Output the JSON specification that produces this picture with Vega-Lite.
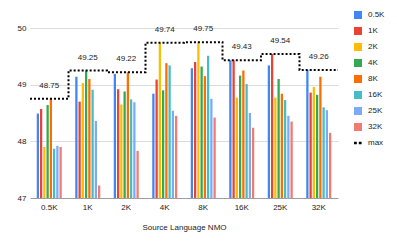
{
  "$schema": "https://vega.github.io/schema/vega-lite/v6.json",
  "width": 308,
  "height": 170,
  "autosize": "none",
  "padding": {"left": 30, "top": 28, "right": 59, "bottom": 47},
  "background": "white",
  "config": {
    "view": {"stroke": null},
    "font": "Liberation Sans",
    "axis": {"labelFont": "Liberation Sans", "titleFont": "Liberation Sans", "labelColor": "#222222", "titleColor": "#222222", "labelFontSize": 8, "titleFontSize": 8, "titleFontWeight": "normal"},
    "legend": {"labelFont": "Liberation Sans", "labelColor": "#222222", "labelFontSize": 8}
  },
  "datasets": {
    "bars": [
      {"g": "0.5K", "s": "0.5K", "v": 48.49}, {"g": "0.5K", "s": "1K", "v": 48.57}, {"g": "0.5K", "s": "2K", "v": 47.90}, {"g": "0.5K", "s": "4K", "v": 48.64},
      {"g": "0.5K", "s": "8K", "v": 48.75}, {"g": "0.5K", "s": "16K", "v": 47.87}, {"g": "0.5K", "s": "25K", "v": 47.92}, {"g": "0.5K", "s": "32K", "v": 47.90},
      {"g": "1K", "s": "0.5K", "v": 49.14}, {"g": "1K", "s": "1K", "v": 48.70}, {"g": "1K", "s": "2K", "v": 49.03}, {"g": "1K", "s": "4K", "v": 49.25},
      {"g": "1K", "s": "8K", "v": 49.10}, {"g": "1K", "s": "16K", "v": 48.91}, {"g": "1K", "s": "25K", "v": 48.36}, {"g": "1K", "s": "32K", "v": 47.22},
      {"g": "2K", "s": "0.5K", "v": 49.19}, {"g": "2K", "s": "1K", "v": 48.92}, {"g": "2K", "s": "2K", "v": 48.65}, {"g": "2K", "s": "4K", "v": 48.88},
      {"g": "2K", "s": "8K", "v": 49.22}, {"g": "2K", "s": "16K", "v": 48.74}, {"g": "2K", "s": "25K", "v": 48.69}, {"g": "2K", "s": "32K", "v": 47.83},
      {"g": "4K", "s": "0.5K", "v": 48.84}, {"g": "4K", "s": "1K", "v": 49.09}, {"g": "4K", "s": "2K", "v": 49.74}, {"g": "4K", "s": "4K", "v": 48.90},
      {"g": "4K", "s": "8K", "v": 49.38}, {"g": "4K", "s": "16K", "v": 49.34}, {"g": "4K", "s": "25K", "v": 48.54}, {"g": "4K", "s": "32K", "v": 48.45},
      {"g": "8K", "s": "0.5K", "v": 49.29}, {"g": "8K", "s": "1K", "v": 49.40}, {"g": "8K", "s": "2K", "v": 49.75}, {"g": "8K", "s": "4K", "v": 49.32},
      {"g": "8K", "s": "8K", "v": 49.15}, {"g": "8K", "s": "16K", "v": 49.51}, {"g": "8K", "s": "25K", "v": 48.75}, {"g": "8K", "s": "32K", "v": 48.42},
      {"g": "16K", "s": "0.5K", "v": 49.43}, {"g": "16K", "s": "1K", "v": 49.43}, {"g": "16K", "s": "2K", "v": 48.77}, {"g": "16K", "s": "4K", "v": 49.16},
      {"g": "16K", "s": "8K", "v": 49.25}, {"g": "16K", "s": "16K", "v": 49.01}, {"g": "16K", "s": "25K", "v": 48.50}, {"g": "16K", "s": "32K", "v": 48.24},
      {"g": "25K", "s": "0.5K", "v": 49.34}, {"g": "25K", "s": "1K", "v": 49.54}, {"g": "25K", "s": "2K", "v": 48.77}, {"g": "25K", "s": "4K", "v": 49.10},
      {"g": "25K", "s": "8K", "v": 48.84}, {"g": "25K", "s": "16K", "v": 48.73}, {"g": "25K", "s": "25K", "v": 48.45}, {"g": "25K", "s": "32K", "v": 48.35},
      {"g": "32K", "s": "0.5K", "v": 49.26}, {"g": "32K", "s": "1K", "v": 48.86}, {"g": "32K", "s": "2K", "v": 48.96}, {"g": "32K", "s": "4K", "v": 48.82},
      {"g": "32K", "s": "8K", "v": 49.14}, {"g": "32K", "s": "16K", "v": 48.60}, {"g": "32K", "s": "25K", "v": 48.55}, {"g": "32K", "s": "32K", "v": 48.15}
    ],
    "max": [
      {"edge": "0.5K", "v": 48.75, "label": "48.75"},
      {"edge": "1K", "v": 49.25, "label": "49.25"},
      {"edge": "2K", "v": 49.22, "label": "49.22"},
      {"edge": "4K", "v": 49.74, "label": "49.74"},
      {"edge": "8K", "v": 49.75, "label": "49.75"},
      {"edge": "16K", "v": 49.43, "label": "49.43"},
      {"edge": "25K", "v": 49.54, "label": "49.54"},
      {"edge": "32K", "v": 49.26, "label": "49.26"},
      {"edge": "end", "v": 49.26, "label": ""}
    ]
  },
  "layer": [
    {
      "data": {"name": "bars"},
      "mark": {"type": "bar"},
      "encoding": {
        "x": {
          "field": "g", "type": "nominal",
          "sort": ["0.5K", "1K", "2K", "4K", "8K", "16K", "25K", "32K"],
          "scale": {"paddingInner": 0.325, "paddingOuter": 0.1625},
          "axis": {"title": "Source Language NMO", "labelAngle": 0, "ticks": false, "tickSize": 0, "domain": false, "labelPadding": 5, "titlePadding": 12}
        },
        "xOffset": {
          "field": "s", "type": "nominal",
          "sort": ["0.5K", "1K", "2K", "4K", "8K", "16K", "25K", "32K"],
          "scale": {"paddingInner": 0.3, "paddingOuter": 0.15}
        },
        "y": {
          "field": "v", "type": "quantitative",
          "scale": {"domain": [47, 50], "zero": false, "nice": false},
          "axis": {
            "title": null, "values": [47, 48, 49, 50], "format": "d", "ticks": false, "domain": false, "labelPadding": 4,
            "gridColor": {"condition": {"test": "datum.value === 47", "value": "#9e9e9e"}, "value": "#dcdcdc"},
            "gridWidth": 1
          }
        },
        "y2": {"datum": 47},
        "color": {
          "field": "s", "type": "nominal",
          "scale": {
            "domain": ["0.5K", "1K", "2K", "4K", "8K", "16K", "25K", "32K", "max"],
            "range": ["#4285F4", "#EA4335", "#FBBC04", "#34A853", "#FF6D01", "#46BDC6", "#7BAAF7", "#F07B72", "#000000"]
          },
          "legend": {
            "title": null, "orient": "none", "legendX": 324, "legendY": -17,
            "symbolType": "square", "symbolSize": 64, "symbolStrokeWidth": 0,
            "labelOffset": 6, "rowPadding": 8, "padding": 0,
            "encode": {
              "symbols": {
                "update": {
                  "shape": {"signal": "datum.value === 'max' ? 'M-1,-0.3H-0.3V0.3H-1Z M0.2,-0.3H0.9V0.3H0.2Z' : 'square'"}
                }
              }
            }
          }
        }
      }
    },
    {
      "data": {"name": "max"},
      "mark": {"type": "line", "interpolate": "step-after", "strokeDash": [2, 2], "strokeWidth": 2},
      "encoding": {
        "x": {
          "field": "edge", "type": "ordinal",
          "sort": ["0.5K", "1K", "2K", "4K", "8K", "16K", "25K", "32K", "end"],
          "scale": {"type": "point", "padding": 0},
          "axis": null
        },
        "y": {"field": "v", "type": "quantitative"},
        "color": {"datum": "max"}
      }
    },
    {
      "data": {"name": "max"},
      "transform": [{"filter": "datum.edge !== 'end'"}],
      "mark": {"type": "text", "fontSize": 8, "color": "#222222", "baseline": "alphabetic", "dy": -11},
      "encoding": {
        "x": {
          "field": "edge", "type": "nominal",
          "sort": ["0.5K", "1K", "2K", "4K", "8K", "16K", "25K", "32K"],
          "scale": {"paddingInner": 0, "paddingOuter": 0},
          "axis": null
        },
        "y": {"field": "v", "type": "quantitative"},
        "text": {"field": "label"}
      }
    }
  ],
  "resolve": {"scale": {"x": "independent"}, "axis": {"x": "independent"}}
}
